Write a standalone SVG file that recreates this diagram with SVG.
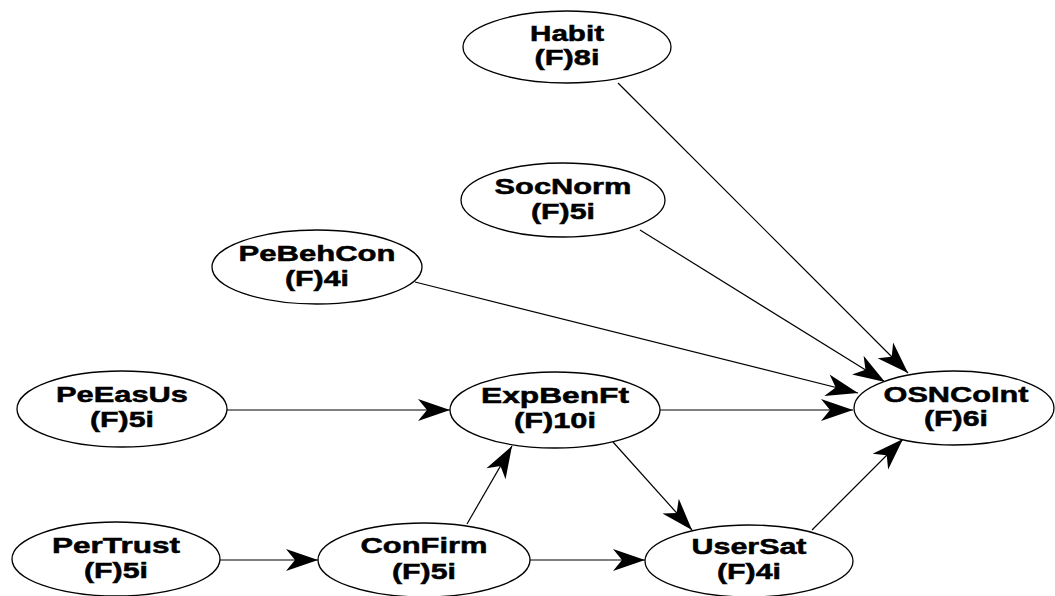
<svg xmlns="http://www.w3.org/2000/svg" width="1055" height="596" viewBox="0 0 1055 596">
<style>
.n ellipse{fill:#fff;stroke:#000;stroke-width:1.3}
.n text{font-family:"Liberation Sans",Arial,sans-serif;font-weight:bold;font-size:22px;fill:#000;stroke:#000;stroke-width:0.5;text-anchor:middle}
.c line{stroke:#000;stroke-width:1.2;marker-end:url(#ah)}
</style>
<defs>
<marker id="ah" markerUnits="userSpaceOnUse" markerWidth="34" markerHeight="24" refX="32" refY="11" orient="auto" overflow="visible">
<path d="M32,11 L0,0 L9,11 L0,22 Z" fill="#000"/>
</marker>
</defs>
<rect width="1055" height="596" fill="#fff"/>
<g id="connectors" class="c">
<line x1="618" y1="83" x2="908" y2="373"/>
<line x1="640" y1="230" x2="885" y2="382"/>
<line x1="415" y1="282" x2="858" y2="393"/>
<line x1="227" y1="410" x2="450" y2="410"/>
<line x1="660" y1="410" x2="853" y2="410"/>
<line x1="613" y1="442" x2="692" y2="530"/>
<line x1="467" y1="524" x2="512" y2="446"/>
<line x1="812" y1="530" x2="903" y2="439"/>
<line x1="220" y1="560" x2="318" y2="560"/>
<line x1="530" y1="560" x2="645" y2="560"/>
</g>
<g id="Habit" class="n"><ellipse cx="567" cy="47" rx="104" ry="36"/><text x="567" y="41" textLength="74" lengthAdjust="spacingAndGlyphs">Habit</text><text x="567" y="65" textLength="65" lengthAdjust="spacingAndGlyphs">(F)8i</text></g>
<g id="SocNorm" class="n"><ellipse cx="563" cy="200" rx="102" ry="37"/><text x="563" y="194" textLength="137" lengthAdjust="spacingAndGlyphs">SocNorm</text><text x="563" y="219" textLength="64" lengthAdjust="spacingAndGlyphs">(F)5i</text></g>
<g id="PeBehCon" class="n"><ellipse cx="317" cy="267" rx="105" ry="37"/><text x="317" y="261" textLength="157" lengthAdjust="spacingAndGlyphs">PeBehCon</text><text x="317" y="286" textLength="64" lengthAdjust="spacingAndGlyphs">(F)4i</text></g>
<g id="PeEasUs" class="n"><ellipse cx="122" cy="409" rx="105" ry="38"/><text x="122" y="402" textLength="132" lengthAdjust="spacingAndGlyphs">PeEasUs</text><text x="122" y="427" textLength="64" lengthAdjust="spacingAndGlyphs">(F)5i</text></g>
<g id="ExpBenFt" class="n"><ellipse cx="555" cy="410" rx="105" ry="38"/><text x="555" y="403" textLength="148" lengthAdjust="spacingAndGlyphs">ExpBenFt</text><text x="555" y="428" textLength="82" lengthAdjust="spacingAndGlyphs">(F)10i</text></g>
<g id="OSNCoInt" class="n"><ellipse cx="954" cy="408" rx="100" ry="37"/><text x="956" y="402" textLength="145" lengthAdjust="spacingAndGlyphs">OSNCoInt</text><text x="956" y="426" textLength="64" lengthAdjust="spacingAndGlyphs">(F)6i</text></g>
<g id="PerTrust" class="n"><ellipse cx="116" cy="559" rx="104" ry="37"/><text x="116" y="553" textLength="128" lengthAdjust="spacingAndGlyphs">PerTrust</text><text x="116" y="578" textLength="64" lengthAdjust="spacingAndGlyphs">(F)5i</text></g>
<g id="ConFirm" class="n"><ellipse cx="424" cy="560" rx="106" ry="37"/><text x="424" y="553" textLength="127" lengthAdjust="spacingAndGlyphs">ConFirm</text><text x="424" y="579" textLength="64" lengthAdjust="spacingAndGlyphs">(F)5i</text></g>
<g id="UserSat" class="n"><ellipse cx="749" cy="561" rx="104" ry="36"/><text x="749" y="554" textLength="115" lengthAdjust="spacingAndGlyphs">UserSat</text><text x="749" y="579" textLength="64" lengthAdjust="spacingAndGlyphs">(F)4i</text></g>
</svg>
